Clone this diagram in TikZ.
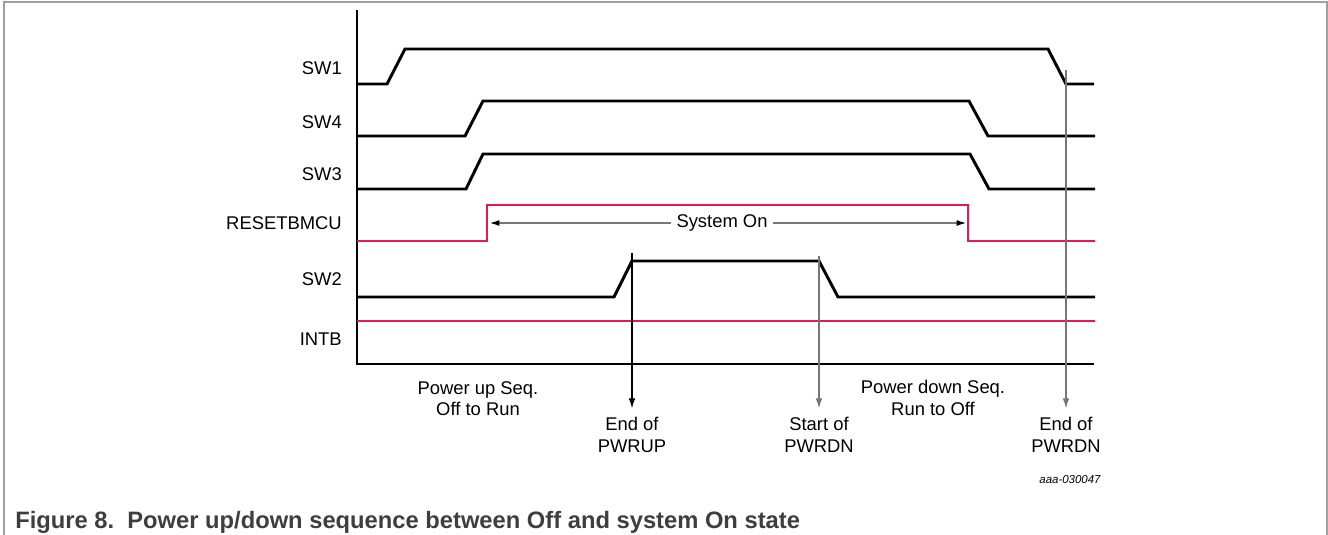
\documentclass[tikz,border=0pt]{standalone}
\usepackage{fontspec}
\setmainfont{Liberation Sans}
\usetikzlibrary{arrows.meta}

\definecolor{sigred}{RGB}{230,24,78}
\definecolor{markgray}{RGB}{118,118,118}
\definecolor{capgray}{RGB}{62,62,62}

\begin{document}
\begin{tikzpicture}[x=0.75pt,y=-0.75pt,
  signal/.style={line width=2.2pt, line join=miter},
  redsignal/.style={signal, draw=sigred},
  marker/.style={line width=0.9pt, -{Latex[length=7.5pt,width=5pt]}, shorten >=6.5pt},
  sysarrow/.style={markgray, line width=0.8pt, -{Latex[length=7pt,width=4.5pt,color=black]}},
  sigtext/.style={font=\fontsize{13.8}{16}\selectfont, anchor=east, inner sep=0pt},
  note/.style={font=\fontsize{13.8}{16.2}\selectfont, align=center, inner sep=0pt}]

\useasboundingbox (0,0) rectangle (1328,535);

% Frame
\draw[markgray!70, line width=0.8pt] (4,536) -- (4,2) -- (1327,2) -- (1327,536);

% Axes
\draw[line width=1.3pt] (357,10) -- (357,364) -- (1094,364);

% Signal names
\node[sigtext] (lsw1) at (342,68) {SW1};
\node[sigtext] (lsw4) at (342,122) {SW4};
\node[sigtext] (lsw3) at (342,174) {SW3};
\node[sigtext] (lreset) at (342,223) {RESETBMCU};
\node[sigtext] (lsw2) at (342,279) {SW2};
\node[sigtext] (lintb) at (342,339) {INTB};

% Waveforms
\draw[signal] (357,84) -- (387,84) -- (405,49) -- (1048,49) -- (1066,84) -- (1094,84);
\draw[signal] (357,136) -- (465,136) -- (483,101) -- (969,101) -- (988,136) -- (1095,136);
\draw[signal] (357,189) -- (466,189) -- (483,154) -- (970,154) -- (989,189) -- (1095,189);
\draw[redsignal] (357,241) -- (487,241) -- (487,205) -- (968,205) -- (968,241) -- (1095,241);
\draw[signal] (357,297) -- (614,297) -- (632,261) -- (819,261) -- (838,297) -- (1095,297);
\draw[redsignal] (357,321) -- (1095,321);

% System On span
\coordinate (onl) at (490,223);
\coordinate (onr) at (966,223);
\node[note, inner xsep=3.7pt] (syson) at (722,223) {System On};
\draw[sysarrow] (syson.west) -- (onl);
\draw[sysarrow] (syson.east) -- (onr);

% Event markers
\coordinate (m1) at (632,253);
\coordinate (m2) at (819,256);
\coordinate (m3) at (1066,70);
\node[note, anchor=north] (endup) at (632,417) {End of\\PWRUP};
\node[note, anchor=north] (startdn) at (819,417) {Start of\\PWRDN};
\node[note, anchor=north] (enddn) at (1066,417) {End of\\PWRDN};
\draw[marker] (m1) -- (endup.north);
\draw[marker, markgray] (m2) -- (startdn.north);
\draw[marker, markgray] (m3) -- (enddn.north);

% Phase labels
\node[note] (pup) at (478,398.5) {Power up Seq.\\Off to Run};
\node[note] (pdn) at (933,398) {Power down Seq.\\Run to Off};

% Figure id and caption
\node[font=\itshape\fontsize{8.6}{10}\selectfont, inner sep=0pt] (figid) at (1070,480) {aaa-030047};
\node[anchor=base west, font=\bfseries\fontsize{17.8}{20}\selectfont, text=capgray, inner sep=0pt] (caption) at (15,528) {Figure 8.\ \ Power up/down sequence between Off and system On state};

\end{tikzpicture}
\end{document}
